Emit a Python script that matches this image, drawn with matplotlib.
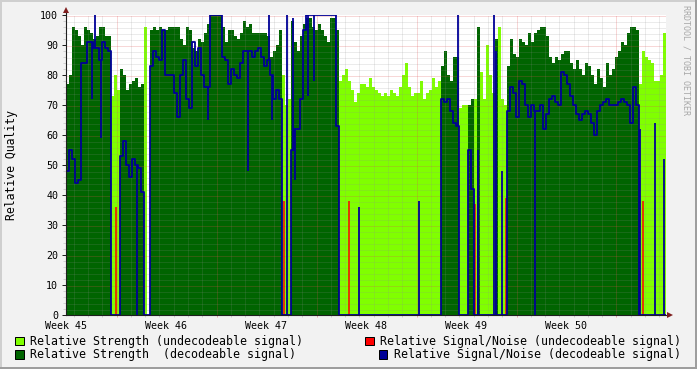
import numpy as np
import matplotlib
matplotlib.use("Agg")
import matplotlib.pyplot as plt
from matplotlib.patches import Rectangle

W, H = 697, 369
plt.rcParams["font.family"] = "DejaVu Sans Mono"

# one sample every 0.21 day (~5 h), 200 samples from the start of week 45
STEP = 0.21
weeks = ["Week 45", "Week 46", "Week 47", "Week 48", "Week 49", "Week 50"]

# d = decodeable, u = undecodeable, " " = no data
mode = ("d" * 15 + "u" * 3 + "d" * 8 + "u" + " " + "d" * 44 + "u" * 3 + "d" * 16
        + "u" * 34 + "d" * 6 + "u" * 3 + "d" * 2 + "u" + "d" + "u" * 5 + "d"
        + "u" * 3 + "d" * 44 + "u" * 9)

strength = [
    77, 80, 96, 95, 93, 90, 96, 95, 94, 92,
    93, 96, 96, 93, 93, 73, 80, 75, 82, 80,
    75, 77, 78, 79, 76, 77, 96, 0, 95, 96,
    95, 96, 95, 95, 96, 96, 96, 96, 92, 90,
    96, 95, 89, 88, 92, 91, 94, 97, 100, 100,
    100, 100, 96, 91, 95, 95, 93, 92, 94, 98,
    96, 97, 94, 94, 94, 94, 94, 93, 86, 88,
    90, 95, 80, 70, 72, 98, 91, 88, 93, 97,
    99, 99, 96, 95, 97, 95, 93, 91, 99, 99,
    95, 78, 80, 82, 78, 75, 71, 74, 77, 77,
    76, 79, 76, 75, 74, 73, 74, 73, 75, 74,
    73, 76, 80, 84, 76, 73, 74, 74, 78, 72,
    74, 75, 79, 76, 78, 83, 88, 80, 78, 86,
    86, 69, 70, 70, 70, 72, 72, 96, 81, 72,
    90, 80, 74, 92, 96, 72, 70, 83, 92, 87,
    86, 92, 91, 90, 94, 91, 94, 95, 96, 96,
    93, 86, 84, 86, 85, 87, 88, 88, 84, 82,
    85, 82, 80, 84, 83, 80, 77, 82, 79, 76,
    84, 80, 82, 86, 88, 91, 90, 94, 96, 96,
    95, 77, 88, 86, 85, 84, 78, 78, 80, 94,
]

# signal/noise of decodeable samples (0 where nothing was decoded)
snr_dec = [
    48, 55, 52, 44, 45, 84, 84, 91, 91, 89,
    89, 85, 91, 89, 88, 0, 0, 0, 53, 58,
    50, 46, 52, 50, 49, 41, 0, 0, 83, 88,
    86, 85, 95, 80, 80, 80, 74, 66, 80, 85,
    72, 69, 91, 83, 89, 80, 76, 76, 100, 100,
    100, 100, 86, 85, 77, 82, 80, 79, 84, 88,
    88, 88, 86, 88, 89, 86, 83, 85, 80, 72,
    75, 72, 0, 0, 0, 55, 62, 62, 72, 95,
    100, 100, 100, 100, 100, 100, 100, 100, 100, 100,
    63, 0, 0, 0, 0, 0, 0, 0, 0, 0,
    0, 0, 0, 0, 0, 0, 0, 0, 0, 0,
    0, 0, 0, 0, 0, 0, 0, 0, 0, 0,
    0, 0, 0, 0, 0, 72, 71, 72, 68, 64,
    63, 0, 0, 0, 55, 42, 0, 0, 0, 0,
    0, 0, 0, 0, 0, 0, 0, 68, 76, 74,
    66, 78, 77, 70, 66, 70, 68, 68, 70, 62,
    67, 72, 73, 71, 70, 81, 80, 77, 73, 70,
    67, 65, 67, 68, 67, 64, 60, 68, 70, 71,
    72, 70, 70, 70, 71, 72, 71, 70, 64, 76,
    70, 0, 0, 0, 0, 0, 0, 0, 0, 0,
]

# single-sample excursions of the decodeable signal/noise line
spike_at = [8, 9, 11, 23, 47, 60, 67, 68, 73, 75, 76, 80, 82, 97, 117,
            130, 137, 142, 143, 145, 156, 191, 196, 199]
spike_val = [72, 100, 59, 0, 65, 48, 100, 65, 100, 99, 45, 73, 78, 36, 38,
             100, 55, 100, 88, 48, 0, 62, 64, 52]

snr_undec_at = [16, 72, 94, 136, 146, 192]
snr_undec_val = [36, 38, 38, 37, 39, 38]

LIGHT = "#80ff00"
DARK = "#006400"
RED = "#ff0000"
BLUE = "#000096"
AXIS = (0.12, 0.12, 0.12)
ARROW = (0.5, 0.12, 0.12)
GRID = (0.56, 0.56, 0.56, 0.34)
MGRID = (0.87, 0.31, 0.31, 0.45)


def ext(a):
    return np.append(a, a[-1])


def fig_rect(x, y, w, h, **kw):
    # pixel box from the top-left corner of the image
    fig.add_artist(Rectangle((x / W, 1 - (y + h) / H), w / W, h / H,
                             transform=fig.transFigure, **kw))


n = len(strength)
t = np.arange(n + 1) * STEP
mid = t[:-1] + STEP / 2
s = np.array(strength, float)
m = np.array(list(mode))
light = np.where(m == "u", s, 0)
dark = np.where(m == "d", s, 0)
blue = np.array(snr_dec, float)

fig = plt.figure(figsize=(W / 100, H / 100), dpi=100)
fig.patch.set_facecolor("#f2f2f2")
ax = fig.add_axes([66 / W, 54 / H, 600 / W, 300 / H])
ax.set_facecolor("white")
ax.set_xlim(0, 42)
ax.set_ylim(0, 100)
for sp in ax.spines.values():
    sp.set_visible(False)

ax.fill_between(t, ext(light), step="post", color=LIGHT, lw=0, zorder=2)
ax.fill_between(t, ext(dark), step="post", color=DARK, lw=0, zorder=2)

# dotted grid over the areas; half-pixel shift keeps the dots crisp
hy = 0.5 / 3
hx = 0.5 * STEP / 3
minor_y = [v for v in range(2, 100, 2) if v % 10]
major_y = list(range(10, 101, 10))
day_major = [3.5 + 7 * k for k in range(6)]
day_minor = [d + 0.5 for d in range(42) if (d + 0.5) not in day_major]
gkw = dict(linestyles=[(0, (1, 1))], linewidth=0.72, zorder=3)
ax.hlines(np.array(minor_y) - hy, 0, 42, colors=[GRID], **gkw)
ax.vlines(np.array(day_minor) + hx, 0, 100, colors=[GRID], **gkw)
ax.hlines(np.array(major_y) - hy, 0, 42, colors=[MGRID], **gkw)
ax.vlines(np.array(day_major) + hx, 0, 100, colors=[MGRID], **gkw)

ax.vlines(mid[snr_undec_at], 0, snr_undec_val, colors=RED, lw=1.1, zorder=4)
ax.step(t, ext(blue), where="post", color=BLUE, lw=1.3, zorder=5)
ax.vlines(mid[spike_at], blue[spike_at], spike_val, colors=BLUE, lw=1.3,
          zorder=5)

# axes with arrows
ax.plot([0, 42.3], [0, 0], color=AXIS, lw=0.8, clip_on=False, zorder=6)
ax.plot([0, 0], [0, 101.5], color=AXIS, lw=0.8, clip_on=False, zorder=6)
ax.plot([42.3], [0], marker=">", ms=4, mew=0, color=ARROW, clip_on=False, zorder=7)
ax.plot([0], [101.6], marker="^", ms=4, mew=0, color=ARROW, clip_on=False, zorder=7)
ax.vlines(np.array(day_minor) + hx, -0.8, 0, colors=[GRID], lw=0.72, clip_on=False)
ax.vlines(np.array(day_major) + hx, -0.8, 0, colors=[MGRID], lw=0.72, clip_on=False)

ax.set_xticks([7 * k for k in range(len(weeks))])
ax.set_xticklabels(weeks)
ax.tick_params(axis="x", length=0, pad=4.5, labelsize=7.2)
ax.set_yticks(range(0, 101, 10))
ax.set_yticks(minor_y, minor=True)
ax.tick_params(axis="y", which="major", length=3, width=0.72, color=AXIS,
               pad=2.6, labelsize=7.2)
ax.tick_params(axis="y", which="minor", length=2, width=0.72, color=GRID)

fig.text(12 / W, 1 - 165 / H, "Relative Quality", rotation=90,
         ha="center", va="center", fontsize=8.3)
fig.text(686 / W, 1 - 5 / H, "RRDTOOL / TOBI OETIKER", rotation=270,
         ha="center", va="top", fontsize=6, color="#a8a8a8")

# legend: (box x, row centre y, colour, text)
legend = [
    (15, 341, LIGHT, "Relative Strength (undecodeable signal)"),
    (15, 354.5, DARK, "Relative Strength  (decodeable signal)"),
    (365, 341, RED, "Relative Signal/Noise (undecodeable signal)"),
    (379, 354.5, BLUE, "Relative Signal/Noise (decodeable signal)"),
]
for x0, yc, col, label in legend:
    fig_rect(x0, yc - 4.5, 8.5, 8.5, facecolor=col, edgecolor="black", lw=0.72)
    fig.text((x0 + 15) / W, 1 - yc / H, label, ha="left", va="center",
             fontsize=8.38)

# shaded image frame
fig_rect(0, 0, W, 2, facecolor=(0.81, 0.81, 0.81), lw=0)
fig_rect(0, 0, 2, H, facecolor=(0.81, 0.81, 0.81), lw=0)
fig_rect(0, H - 2, W, 2, facecolor=(0.62, 0.62, 0.62), lw=0)
fig_rect(W - 2, 0, 2, H, facecolor=(0.62, 0.62, 0.62), lw=0)

fig.savefig("out.png", dpi=100, facecolor=fig.get_facecolor())
